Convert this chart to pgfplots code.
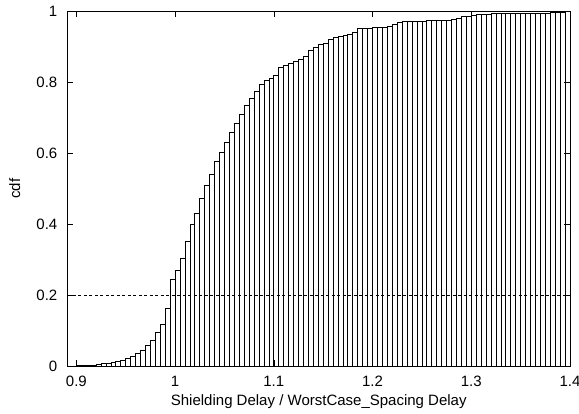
\documentclass[border=0pt]{standalone}
\usepackage{fontspec}
\setmainfont{Liberation Sans}
\usepackage{pgfplots}
\pgfplotsset{compat=1.18}
\usepackage{pgfplotstable}

% bin centre, cumulative fraction (bins of 0.005)
\pgfplotstableread{
x y
0.9025 0.0005
0.9075 0.001
0.9125 0.002
0.9175 0.003
0.9225 0.004
0.9275 0.006
0.9325 0.008
0.9375 0.010
0.9425 0.013
0.9475 0.017
0.9525 0.021
0.9575 0.027
0.9625 0.035
0.9675 0.044
0.9725 0.057
0.9775 0.073
0.9825 0.094
0.9875 0.118
0.9925 0.161
0.9975 0.244
1.0025 0.268
1.0075 0.304
1.0125 0.351
1.0175 0.400
1.0225 0.431
1.0275 0.471
1.0325 0.509
1.0375 0.541
1.0425 0.577
1.0475 0.601
1.0525 0.629
1.0575 0.657
1.0625 0.684
1.0675 0.710
1.0725 0.734
1.0775 0.755
1.0825 0.773
1.0875 0.794
1.0925 0.804
1.0975 0.809
1.1025 0.818
1.1075 0.841
1.1125 0.846
1.1175 0.853
1.1225 0.859
1.1275 0.864
1.1325 0.873
1.1375 0.890
1.1425 0.898
1.1475 0.905
1.1525 0.910
1.1575 0.919
1.1625 0.925
1.1675 0.928
1.1725 0.930
1.1775 0.933
1.1825 0.941
1.1875 0.950
1.1925 0.951
1.1975 0.952
1.2025 0.953
1.2075 0.954
1.2125 0.955
1.2175 0.958
1.2225 0.962
1.2275 0.969
1.2325 0.970
1.2375 0.970
1.2425 0.971
1.2475 0.972
1.2525 0.972
1.2575 0.973
1.2625 0.973
1.2675 0.973
1.2725 0.974
1.2775 0.975
1.2825 0.977
1.2875 0.980
1.2925 0.984
1.2975 0.986
1.3025 0.989
1.3075 0.990
1.3125 0.991
1.3175 0.991
1.3225 0.992
1.3275 0.992
1.3325 0.992
1.3375 0.992
1.3425 0.992
1.3475 0.993
1.3525 0.993
1.3575 0.993
1.3625 0.993
1.3675 0.994
1.3725 0.994
1.3775 0.994
1.3825 0.995
1.3875 0.996
1.3925 0.997
1.3975 1.000
}\cdfdata

\begin{document}
\fontsize{15}{18}\selectfont
\begin{tikzpicture}
\path[use as bounding box] (-67.5pt,-47pt) rectangle (511.5pt,366pt);
\begin{axis}[
  at={(0,0)}, anchor=south west,
  scale only axis, width=502.5pt, height=355pt,
  xmin=0.891, xmax=1.4, ymin=0, ymax=1,
  xtick={0.9,1,1.1,1.2,1.3,1.4},
  ytick={0,0.2,0.4,0.6,0.8,1},
  /pgf/number format/assume math mode=true,
  tick align=inside, major tick length=6pt,
  tick style={black, line width=0.6pt},
  axis line style={line width=0.8pt},
  xticklabel style={yshift=-5pt},
  yticklabel style={xshift=-5pt},
  xlabel={Shielding Delay / WorstCase\_Spacing Delay},
  ylabel={cdf},
  xlabel style={at={(axis description cs:0.5,-0.11)}, anchor=base},
  ylabel style={at={(axis description cs:-0.0945,0.5)}, anchor=base},
]
\addplot[ybar, bar width=0.005, bar shift=0pt, draw=black, fill=none, line width=0.75pt]
  table[x=x, y=y] {\cdfdata};
\addplot[black, line width=0.6pt, dash pattern=on 3pt off 2.5pt] coordinates {(0.891,0.2) (1.4,0.2)};
\end{axis}
\end{tikzpicture}
\end{document}
